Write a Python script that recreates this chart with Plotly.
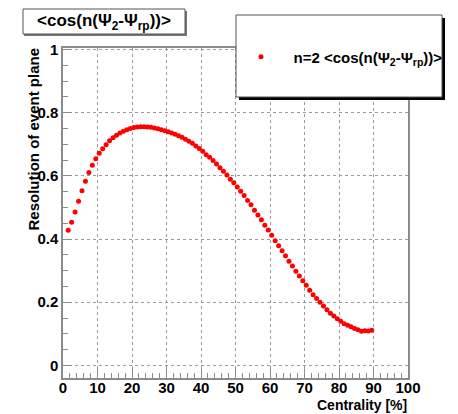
import plotly.graph_objects as go

centrality = [1.5, 2.5, 3.5, 4.5, 5.5, 6.5, 7.5, 8.5, 9.5, 10.5,
              11.5, 12.5, 13.5, 14.5, 15.5, 16.5, 17.5, 18.5, 19.5, 20.5,
              21.5, 22.5, 23.5, 24.5, 25.5, 26.5, 27.5, 28.5, 29.5, 30.5,
              31.5, 32.5, 33.5, 34.5, 35.5, 36.5, 37.5, 38.5, 39.5, 40.5,
              41.5, 42.5, 43.5, 44.5, 45.5, 46.5, 47.5, 48.5, 49.5, 50.5,
              51.5, 52.5, 53.5, 54.5, 55.5, 56.5, 57.5, 58.5, 59.5, 60.5,
              61.5, 62.5, 63.5, 64.5, 65.5, 66.5, 67.5, 68.5, 69.5, 70.5,
              71.5, 72.5, 73.5, 74.5, 75.5, 76.5, 77.5, 78.5, 79.5, 80.5,
              81.5, 82.5, 83.5, 84.5, 85.5, 86.5, 87.5, 88.5, 89.5]
resolution = [0.428, 0.453, 0.486, 0.520, 0.553, 0.583, 0.611, 0.634, 0.654, 0.672,
              0.686, 0.699, 0.711, 0.721, 0.729, 0.736, 0.741, 0.746, 0.750, 0.753,
              0.755, 0.756, 0.756, 0.755, 0.754, 0.752, 0.749, 0.746, 0.743, 0.740,
              0.736, 0.732, 0.727, 0.722, 0.716, 0.710, 0.703, 0.695, 0.687, 0.678,
              0.667, 0.659, 0.649, 0.638, 0.626, 0.615, 0.603, 0.589, 0.578, 0.565,
              0.551, 0.538, 0.522, 0.509, 0.491, 0.476, 0.461, 0.444, 0.429, 0.412,
              0.395, 0.379, 0.363, 0.347, 0.330, 0.315, 0.298, 0.283, 0.268, 0.254,
              0.238, 0.224, 0.212, 0.200, 0.188, 0.176, 0.165, 0.156, 0.148, 0.140,
              0.132, 0.127, 0.122, 0.117, 0.113, 0.108, 0.110, 0.109, 0.111]

series_name = "&nbsp;&nbsp;&nbsp;n=2 &lt;cos(n(Ψ<sub>2</sub>-Ψ<sub>rp</sub>))&gt;"
title_text = "&lt;cos(n(Ψ<sub>2</sub>-Ψ<sub>rp</sub>))&gt;"
x_title = "Centrality [%]"
y_title = "Resolution of event plane"

FONT = "Liberation Sans"
W, H = 458, 414          # browser window
OFF = 8                  # default body margin of the html page
# plot-area edges in window pixels
PL, PR, PT, PB = 63, 408, 48, 378
PW, PH = PR - PL, PB - PT


def px(x):
    return (x - PL) / PW


def py(y):
    return (PB - y) / PH


fig = go.Figure()
fig.add_trace(go.Scatter(
    x=centrality, y=resolution, mode="markers", name=series_name,
    marker=dict(color="#ff0000", size=5, symbol="circle", line=dict(width=0)),
))

axis_common = dict(
    showline=True, mirror=True, linecolor="#8c8c8c", linewidth=1.5,
    ticks="inside", tickcolor="#8c8c8c", ticklen=9, tickwidth=1.2,
    showgrid=True, gridcolor="#9a9a9a", griddash="dot", gridwidth=1,
    zeroline=False,
    tickfont=dict(family=FONT, size=15, color="black", weight="bold"),
)

fig.update_xaxes(range=[0, 100], tick0=0, dtick=10, ticklabelstandoff=-5,
                 minor=dict(ticks="inside", dtick=2, ticklen=5, tickcolor="#8c8c8c", showgrid=False),
                 **axis_common)
fig.update_yaxes(range=[-0.04, 1.005], tick0=0, dtick=0.2,
                 minor=dict(ticks="inside", dtick=0.05, ticklen=5, tickcolor="#8c8c8c", showgrid=False),
                 **axis_common)

shapes = [
    # title box shadow + box
    dict(type="rect", xref="paper", yref="paper", x0=px(24), x1=px(187), y0=py(36), y1=py(11),
         fillcolor="#777777", line=dict(width=0), layer="above"),
    dict(type="rect", xref="paper", yref="paper", x0=px(23), x1=px(185), y0=py(34), y1=py(9),
         fillcolor="white", line=dict(color="#555555", width=1), layer="above"),
    # legend box shadow + box
    dict(type="rect", xref="paper", yref="paper", x0=px(239), x1=px(445), y0=py(100), y1=py(18),
         fillcolor="black", line=dict(width=0), layer="above"),
    dict(type="rect", xref="paper", yref="paper", x0=px(236), x1=px(442), y0=py(97), y1=py(15),
         fillcolor="white", line=dict(color="#555555", width=1), layer="above"),
]

annotations = [
    dict(text=title_text, xref="paper", yref="paper", x=px(104), y=py(22),
         xanchor="center", yanchor="middle", showarrow=False,
         font=dict(family=FONT, size=17, color="black", weight="bold")),
    dict(text=x_title, xref="paper", yref="paper", x=1.0, y=py(405),
         xanchor="right", yanchor="middle", showarrow=False, borderpad=0,
         font=dict(family=FONT, size=14, color="black", weight="bold")),
    dict(text=y_title, xref="paper", yref="paper", x=px(33), y=py(46),
         xanchor="center", yanchor="top", textangle=-90, showarrow=False,
         font=dict(family=FONT, size=15, color="black", weight="bold")),
]

fig.update_layout(
    width=W - OFF, height=H - OFF,
    margin=dict(l=PL - OFF, r=(W - OFF) - (PL - OFF) - PW, t=PT - OFF,
                b=(H - OFF) - (PT - OFF) - PH, autoexpand=False),
    paper_bgcolor="white", plot_bgcolor="white",
    shapes=shapes, annotations=annotations,
    showlegend=True,
    legend=dict(x=px(241), y=py(57), xanchor="left", yanchor="middle",
                bgcolor="rgba(0,0,0,0)", borderwidth=0,
                font=dict(family=FONT, size=15, color="black", weight="bold")),
)

fig.write_html("out.html")
